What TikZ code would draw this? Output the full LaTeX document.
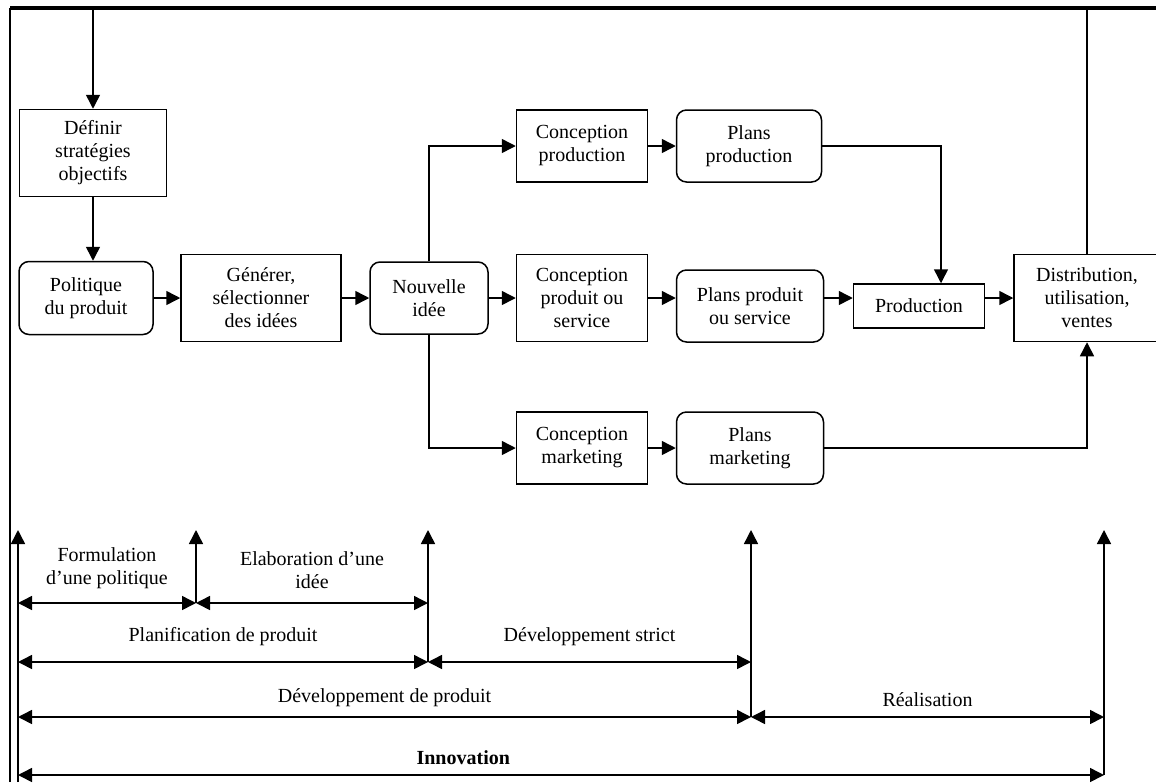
\documentclass[tikz,border=0pt]{standalone}
\usepackage{fontspec}
\setmainfont{Liberation Serif}
\usetikzlibrary{arrows.meta}

\begin{document}
\begin{tikzpicture}[x=0.5pt, y=-0.5pt, font=\fontsize{10}{11.5}\selectfont,
    arr/.style={-{Triangle[length=7pt,width=7pt]}, line width=0.75pt},
    span/.style={{Triangle[length=7pt,width=7pt]}-{Triangle[length=7pt,width=7pt]}, line width=0.75pt},
    box/.style={draw, line width=0.75pt, align=center, inner sep=1pt},
    rbox/.style={box, rounded corners=5pt},
    lbl/.style={align=center, inner sep=1pt}]
            \useasboundingbox (0,0) rectangle (1156,782);
            \draw[line width=0.75pt] (10,782) -- (10,8);
            \draw[line width=1.6pt] (10,8) -- (1156,8);
            % blocs
            \node[box, minimum width=73.5pt, minimum height=43.5pt] (D) at (93,153) {Définir\\stratégies\\objectifs};
            \node[rbox, minimum width=67pt, minimum height=36.5pt] (P) at (86,298) {Politique\\du produit};
            \node[box, minimum width=80pt, minimum height=43.5pt] (G) at (261,298) {Générer,\\sélectionner\\des idées};
            \node[rbox, minimum width=59pt, minimum height=36pt] (N) at (429,298) {Nouvelle\\idée};
            \node[box, minimum width=65.5pt, minimum height=36pt] (CP) at (582,146) {Conception\\production};
            \node[rbox, minimum width=72.5pt, minimum height=36pt] (PP) at (749,146) {Plans\\production};
            \node[box, minimum width=65.5pt, minimum height=43.5pt] (CS) at (582,298) {Conception\\produit ou\\service};
            \node[rbox, minimum width=73.5pt, minimum height=36pt] (PS) at (750,306) {Plans produit\\ou service};
            \node[box, minimum width=65.5pt, minimum height=22pt] (Pr) at (919,306) {Production};
            \node[box, minimum width=73pt, minimum height=43.5pt] (Di) at (1087,298) {Distribution,\\utilisation,\\ventes};
            \node[box, minimum width=65.5pt, minimum height=36pt] (CM) at (582,448) {Conception\\marketing};
            \node[rbox, minimum width=73.5pt, minimum height=36pt] (PM) at (750,448) {Plans\\marketing};
            % flux
            \draw[arr] (Di.north) -- (Di.north |- 0,8) -| (D.north);
            \draw[arr] (D.south) -- (D.south |- P.north);
            \draw[arr] (P) -- (G);
            \draw[arr] (G) -- (N);
            \draw[arr] (N) -- (CS);
            \draw[arr] (N.north) |- (CP.west);
            \draw[arr] (N.south) |- (CM.west);
            \draw[arr] (CP) -- (PP);
            \draw[arr] (CS.east) -- (PS.west |- CS.east);
            \draw[arr] (CM) -- (PM);
            \draw[arr] (PS.east |- CS.east) -- (Pr.west |- CS.east);
            \draw[arr] (Pr.east |- CS.east) -- (Di.west);
            \draw[arr] (PP.east) -| ([xshift=11pt]Pr.north);
            \draw[arr] (PM.east) -| (Di.south);
            % phases
            \coordinate (j0) at (18,530);
            \coordinate (j1) at (196,530);
            \coordinate (j2) at (428,530);
            \coordinate (j3) at (751,530);
            \coordinate (j4) at (1104,530);
            \draw[arr] (j0 |- 0,782) -- (j0);
            \draw[arr] (j1 |- 0,603) -- (j1);
            \draw[arr] (j2 |- 0,662) -- (j2);
            \draw[arr] (j3 |- 0,717) -- (j3);
            \draw[arr] (j4 |- 0,775) -- (j4);
            \draw[span] (j0 |- 0,603) -- (j1 |- 0,603) node[lbl, midway, above=6pt] {Formulation\\d’une politique};
            \draw[span] (j1 |- 0,603) -- (j2 |- 0,603) node[lbl, midway, above=6pt] {Elaboration d’une\\idée};
            \draw[span] (j0 |- 0,662) -- (j2 |- 0,662) node[lbl, midway, above=7pt] {Planification de produit};
            \draw[span] (j2 |- 0,662) -- (j3 |- 0,662) node[lbl, midway, above=7pt] {Développement strict};
            \draw[span] (j0 |- 0,717) -- (j3 |- 0,717) node[lbl, midway, above=4pt] {Développement de produit};
            \draw[span] (j3 |- 0,717) -- (j4 |- 0,717) node[lbl, midway, above=4pt] {Réalisation};
            \draw[span] (j0 |- 0,775) -- (j4 |- 0,775) node[lbl, pos=0.41, above=4pt] {\textbf{Innovation}};
        \end{tikzpicture}
\end{document}
